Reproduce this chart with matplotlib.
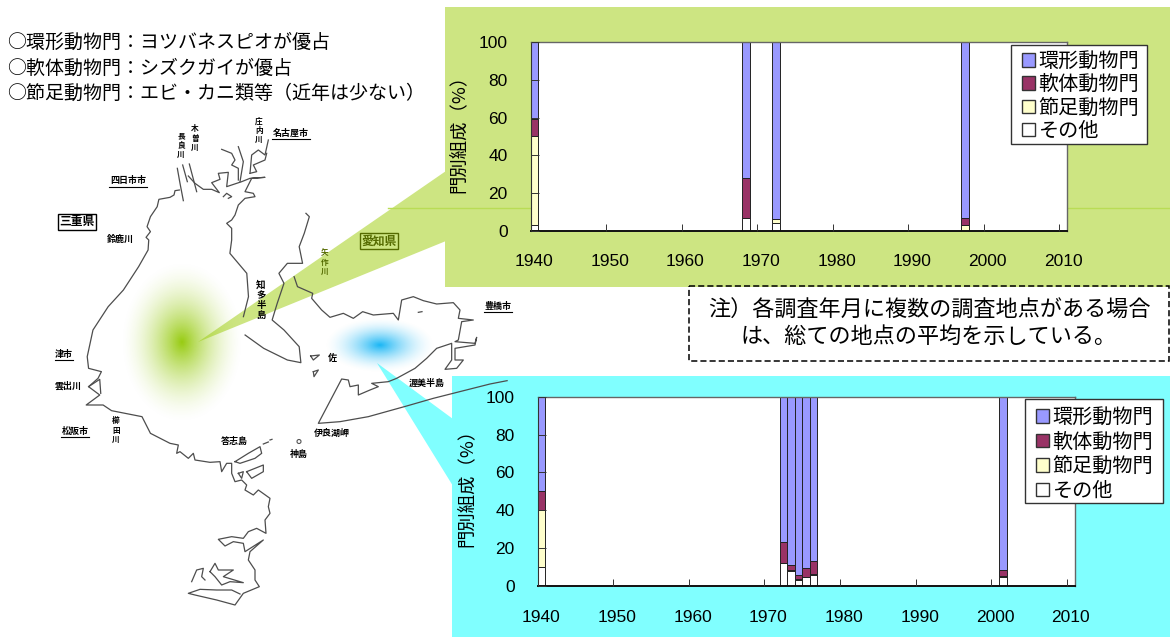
import numpy as np
import matplotlib
matplotlib.use("Agg")
import matplotlib.pyplot as plt
from matplotlib.patches import Polygon, Rectangle, Circle, Patch

plt.rcParams['font.family'] = ['Noto Sans CJK JP', 'DejaVu Sans']

# ---- data ----
series_names = ['環形動物門', '軟体動物門', '節足動物門', 'その他']
tick_years = [1940, 1950, 1960, 1970, 1980, 1990, 2000, 2010]
y_ticks = [0, 20, 40, 60, 80, 100]

top_years = [1940, 1968, 1972, 1997]
top_other = [3, 6.5, 4, 0]
top_arthropod = [47, 0.5, 2, 3]
top_mollusc = [9.5, 21, 0.3, 3.5]
top_annelid = [40.5, 72, 93.7, 93.5]

bot_years = [1940, 1972, 1973, 1974, 1975, 1976, 2001]
bot_other = [10, 12, 8, 3, 4.5, 6, 5]
bot_arthropod = [30, 0.2, 0.2, 0.5, 0.2, 0.5, 0.3]
bot_mollusc = [10, 10.8, 2.8, 2.5, 4.8, 6.5, 3]
bot_annelid = [50, 77, 89, 94, 90.5, 87, 91.7]

header_lines = ['○環形動物門：ヨツバネスピオが優占',
                '○軟体動物門：シズクガイが優占',
                '○節足動物門：エビ・カニ類等（近年は少ない）']
note_lines = ['注）各調査年月に複数の調査地点がある場合', 'は、総ての地点の平均を示している。']

COL = {'ann': '#9999FF', 'mol': '#993366', 'art': '#FFFFCC', 'oth': '#FFFFFF'}
W, H = 1170, 637
fig = plt.figure(figsize=(W / 100, H / 100), dpi=100)
fig.patch.set_facecolor('white')

bg = fig.add_axes([0, 0, 1, 1], zorder=0)
bg.set_xlim(0, W)
bg.set_ylim(H, 0)
bg.axis('off')

GREEN = '#CDE582'
CYAN = '#80FFFF'
bg.add_patch(Rectangle((445, 7), 725, 280, fc=GREEN, ec='none', zorder=1))
bg.add_patch(Rectangle((452, 376), 718, 261, fc=CYAN, ec='none', zorder=1))
bg.add_patch(Polygon([(198, 342), (446, 171), (446, 241)], fc=GREEN, ec='none', zorder=1))
bg.add_patch(Polygon([(377, 363), (453, 419), (453, 486)], fc=CYAN, ec='none', zorder=1))
bg.plot([388, 1170], [207.5, 207.5], color='#B9DC55', lw=1, zorder=1.5)


def blob(cx, cy, rx, ry, rgb, power):
    yy, xx = np.mgrid[-1:1:200j, -1:1:200j]
    r = np.clip(np.hypot(xx, yy), 0, 1)
    img = np.zeros((200, 200, 4))
    img[..., :3] = matplotlib.colors.to_rgb(rgb)
    img[..., 3] = (1 - r) ** power
    bg.imshow(img, extent=(cx - rx, cx + rx, cy + ry, cy - ry), zorder=1.2, aspect='auto',
              interpolation='bilinear')


blob(182, 342, 62, 82, '#97CB10', 1.7)
blob(380, 345, 56, 28, '#18B6F5', 1.7)
bg.set_xlim(0, W)
bg.set_ylim(H, 0)


def a(pts):
    return [(x / 2.958, 100 + y / 3) for x, y in pts]


def b(pts):
    return [(x / 2.958, 340 + y / 3) for x, y in pts]


def c1(pts):
    return [(170 + x / 3, 140 + y / 3) for x, y in pts]


def c2(pts):
    return [(160 + x / 3, 430 + y / 3) for x, y in pts]


def c3(pts):
    return [(290 + x / 3, 280 + y / 3) for x, y in pts]


coast_paths = [
    c1([(28, 150), (15, 152), (12, 165), (0, 172)])
    + a([(470, 298), (465, 320), (445, 350), (435, 380), (445, 395), (432, 412), (440, 420), (438, 450),
         (410, 500), (365, 570), (320, 620), (275, 690), (258, 770), (262, 805)])
    + b([(262, 85), (300, 95), (290, 115), (262, 140), (295, 165), (255, 195), (305, 195), (330, 212),
         (420, 230), (445, 280)])
    + c2([(30, 40), (55, 45), (50, 70), (60, 65), (85, 85), (100, 70), (105, 90), (150, 97), (180, 95),
          (185, 125), (200, 100), (215, 100), (215, 130), (225, 155), (245, 150), (260, 165), (255, 180),
          (280, 195), (295, 180), (330, 205), (325, 230), (330, 250), (315, 270), (318, 310), (290, 295),
          (265, 305), (250, 325), (215, 320), (175, 328), (195, 348), (220, 335), (250, 340), (255, 365),
          (310, 330), (270, 365), (265, 390), (285, 420), (285, 450), (298, 470), (250, 490), (225, 525),
          (170, 510), (105, 495), (85, 490), (120, 478), (170, 480), (215, 480), (240, 492)]),
    c2([(225, 95), (265, 70), (300, 50), (305, 70), (285, 85), (240, 100), (225, 95)]),
    c2([(310, 42), (325, 36)]),
    c2([(330, 30), (336, 28)]),
    c2([(260, 125), (310, 105), (310, 125), (275, 145), (260, 125)]),
    c2([(235, 130), (250, 125), (245, 145), (235, 130)]),
    c2([(95, 455), (110, 420), (130, 415), (125, 440), (135, 450)]),
    c2([(150, 425), (165, 400), (175, 420), (220, 420), (190, 440), (250, 458), (210, 455), (185, 465),
        (165, 440), (150, 425)]),
    b([(262, 140), (295, 118), (298, 160)]),
    c1([(22, 85), (30, 130), (40, 182)]),
    c1([(38, 75), (52, 125)]),
    c1([(58, 72), (80, 155)]),
    c1([(55, 108), (75, 130), (100, 148), (125, 148), (148, 158), (125, 128), (150, 118), (145, 100),
        (175, 97), (170, 140), (200, 130), (215, 125), (240, 115), (285, 112), (245, 115), (225, 155),
        (250, 160), (255, 170), (225, 175), (205, 195), (195, 225), (185, 240), (170, 250), (185, 265),
        (185, 300)])
    + a([(680, 460), (730, 520), (735, 590), (720, 650)]),
    c1([(155, 28), (185, 40), (195, 60), (185, 75), (205, 85), (205, 120)]),
    c1([(205, 20), (220, 65), (210, 125)]),
    c1([(240, 100), (245, 45), (265, 30), (285, 45), (295, 0)]),
    c1([(240, 100), (260, 95), (250, 75), (285, 60), (290, 40)]),
    c1([(160, 170), (170, 160), (185, 170), (175, 175)]),
    a([(725, 705), (780, 745), (850, 780), (890, 788), (885, 740), (840, 690), (805, 660), (820, 610),
       (840, 550), (825, 520), (850, 490), (895, 490), (885, 440), (900, 400), (915, 350), (905, 340)]),
    a([(870, 530), (880, 560), (925, 580)])
    + c3([(65, 55), (95, 90), (120, 112), (160, 100), (190, 115), (218, 95), (250, 105), (310, 100),
          (325, 120), (335, 60), (370, 50), (400, 62), (440, 72), (490, 68), (510, 90), (505, 115),
          (550, 120), (515, 125), (505, 180), (495, 185), (555, 190), (560, 172), (555, 195), (495, 205),
          (495, 240), (520, 240), (500, 265), (465, 268), (485, 240), (485, 190), (440, 205), (410, 235),
          (375, 265), (320, 295), (295, 305), (245, 310), (265, 320), (240, 330), (205, 345), (205, 315),
          (180, 320), (175, 300), (155, 297), (85, 430), (150, 425), (235, 410), (350, 378), (430, 355),
          (600, 312)])
    + b([(1500, 122)]),
    c3([(62, 228), (88, 225), (70, 240), (62, 228)]),
    c3([(70, 275), (85, 270), (72, 290), (70, 275)]),
    c3([(385, 97), (396, 95)]),
]
for path in coast_paths:
    xs, ys = zip(*path)
    bg.plot(xs, ys, color='#4d4d4d', lw=0.9, zorder=2, solid_joinstyle='round')
bg.add_patch(Circle((299, 441.5), 2, fc='white', ec='#555555', lw=0.8, zorder=2))

for i, line in enumerate(header_lines):
    bg.text(7, 42.5 + i * 25.5, line, fontsize=13.7, color='black', va='center', ha='left', zorder=3)

# map labels
kw = dict(fontweight='bold', ha='center', va='center', zorder=3, color='black')
for (x, y, s) in [(128, 181, '四日市市'), (291, 133, '名古屋市'), (498, 306, '豊橋市'),
                  (64, 354, '津市'), (75, 431, '松阪市')]:
    bg.text(x, y, s, fontsize=6.5, **kw)
    hw = len(s) * 4.7
    bg.plot([x - hw, x + hw], [y + 6, y + 6], color='black', lw=0.8, zorder=3)
for (x, y, s) in [(120, 239, '鈴鹿川'), (68, 386, '雲出川'), (234, 441, '答志島'), (332, 433, '伊良湖岬'),
                  (299, 454, '神島'), (427, 383, '渥美半島'), (332, 358, '佐')]:
    bg.text(x, y, s, fontsize=6.5, **kw)
for (x, y, s) in [(181, 145, '長\n良\n川'), (195, 138, '木\n曽\n川'), (259, 130, '庄\n内\n川'),
                  (116, 430, '櫛\n田\n川')]:
    bg.text(x, y, s, fontsize=5.5, linespacing=1.0, **kw)
bg.text(261, 300, '知\n多\n半\n島', fontsize=6.8, linespacing=1.0, **kw)
bg.text(325, 262, '矢\n作\n川', fontsize=5.5, linespacing=1.0, fontweight='bold', ha='center', va='center',
        color='#556B00', zorder=3)
bg.text(77, 222, '三重県', fontsize=8.5, fontweight='bold', ha='center', va='center', color='black', zorder=3,
        bbox=dict(boxstyle='square,pad=0.15', fc='white', ec='black', lw=1))
bg.text(379, 241, '愛知県', fontsize=8.5, fontweight='bold', ha='center', va='center', color='#556B00', zorder=3,
        bbox=dict(boxstyle='square,pad=0.1', fc='none', ec='#556B00', lw=1))

# note box
bg.add_patch(Rectangle((689, 286), 480, 75, fc='none', ec='black', lw=1.1, ls=(0, (4, 2)), zorder=3))
bg.text(929, 311, note_lines[0], fontsize=15.9, ha='center', va='center', zorder=4)
bg.text(929, 337, note_lines[1], fontsize=15.9, ha='center', va='center', zorder=4)


def panel(l, r, t, b_, years, ann, mol, art, oth, box, lab_x, leg_dy, leg_space):
    ax = fig.add_axes([l / W, 1 - b_ / H, (r - l) / W, (b_ - t) / H], zorder=2)
    ax.set_facecolor('white')
    ax.set_xlim(1939.5, 2010.5)
    ax.set_ylim(0, 100)
    oth, art, mol, ann = map(np.array, (oth, art, mol, ann))
    ek = dict(width=1.0, edgecolor='#222222', linewidth=0.7, zorder=2)
    ax.bar(years, oth, color=COL['oth'], **ek)
    ax.bar(years, art, bottom=oth, color=COL['art'], **ek)
    ax.bar(years, mol, bottom=oth + art, color=COL['mol'], **ek)
    ax.bar(years, ann, bottom=oth + art + mol, color=COL['ann'], **ek)
    ax.set_yticks(y_ticks)
    ax.tick_params(axis='y', direction='in', length=5.4, width=0.7, color='#333333', pad=16.5, labelsize=12.5)
    ax.set_xticks([y - 0.5 for y in tick_years])
    ax.set_xticklabels([])
    ax.tick_params(axis='x', which='major', direction='in', length=5, width=0.7, color='#333333')
    ax.set_xticks(tick_years, minor=True)
    ax.set_xticklabels([str(y) for y in tick_years], minor=True, fontsize=12.5, family='Liberation Sans')
    ax.tick_params(axis='x', which='minor', length=0, pad=17)
    for lab in ax.get_yticklabels():
        lab.set_family('Liberation Sans')
    ax.set_axisbelow(False)
    for s in ('top', 'right'):
        ax.spines[s].set_color('#666666')
        ax.spines[s].set_linewidth(1)
    ax.spines['left'].set_color('#333333')
    ax.spines['bottom'].set_color('#111111')
    ax.spines['bottom'].set_linewidth(1.4)
    ax.set_ylabel('門別組成（%）', fontsize=13.2)
    ax.yaxis.set_label_coords(lab_x, 0.54)
    # legend frame drawn separately so its size can match the reference exactly
    bx, by, bw, bh = box
    ax.add_patch(Rectangle((bx, by), bw, bh, transform=bg.transData, clip_on=False, fc='white',
                           ec='#333333', lw=1, zorder=4))
    handles = [Patch(fc=COL[k], ec='#333333', lw=1) for k in ('ann', 'mol', 'art', 'oth')]
    leg = ax.legend(handles, series_names, loc='upper left', bbox_to_anchor=(bx + 10.5, by + leg_dy),
                    bbox_transform=bg.transData, fontsize=14.5, frameon=False, borderaxespad=0,
                    handlelength=0.67, handleheight=0.67, handletextpad=0.18, labelspacing=leg_space,
                    borderpad=0)
    leg.set_zorder(5)
    return ax


panel(530.5, 1067, 42.3, 230.7, top_years, top_annelid, top_mollusc, top_arthropod, top_other,
      (1011, 45, 136, 99), -0.118, 6, 0.11)
panel(537.5, 1074.7, 396.7, 586, bot_years, bot_annelid, bot_mollusc, bot_arthropod, bot_other,
      (1025, 399, 137.5, 104), -0.115, 8, 0.175)

fig.savefig('out.png', dpi=100)
